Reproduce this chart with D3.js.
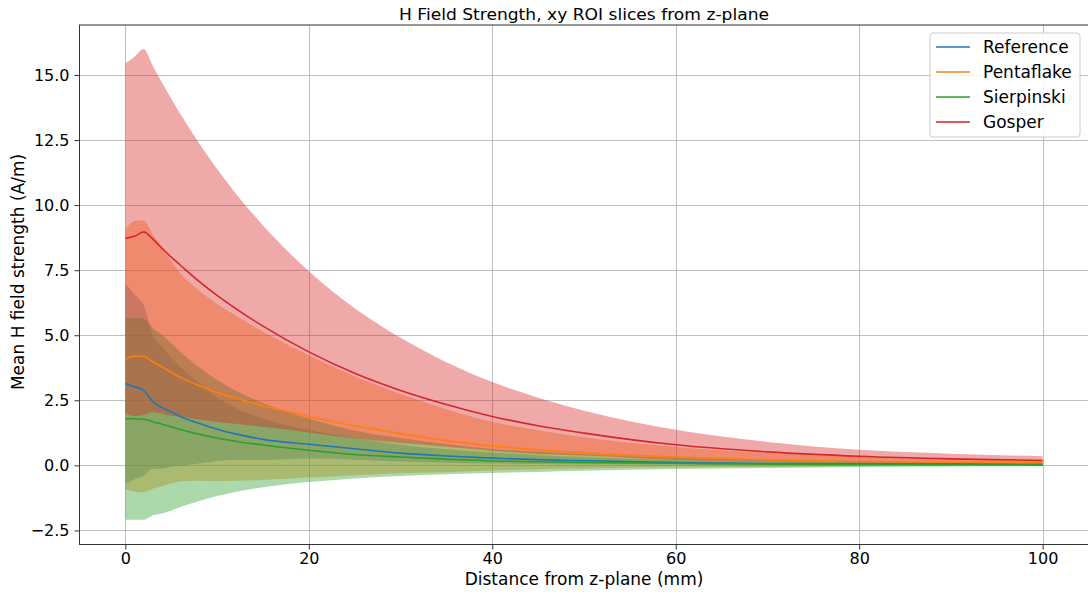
<!DOCTYPE html>
<html>
<head>
<meta charset="utf-8">
<script src="https://cdnjs.cloudflare.com/ajax/libs/d3/7.8.5/d3.min.js"></script>
<style>
  html, body { margin: 0; padding: 0; background: #fff; }
  svg { display: block; font-family: "DejaVu Sans", sans-serif; }
</style>
</head>
<body>
<svg id="chart" width="1088" height="594"></svg>
<script>
// ---- data ----
const distances = [0,1,2,3,4,5,6,8,10,12,15,20,25,30,35,40,45,50,60,70,80,90,100];

const referenceMean = [3.14,3.02,2.88,2.44,2.22,2.05,1.88,1.62,1.39,1.21,1.00,0.81,0.64,0.47,0.36,0.28,0.22,0.18,0.11,0.07,0.06,0.05,0.04];
const referenceStd  = [3.86,3.55,3.27,2.57,2.35,2.10,1.90,1.55,1.22,1.00,0.80,0.55,0.42,0.32,0.26,0.21,0.17,0.14,0.09,0.06,0.05,0.04,0.03];

const pentaflakeMean = [4.08,4.19,4.19,3.98,3.78,3.58,3.38,3.07,2.80,2.59,2.29,1.88,1.52,1.22,0.95,0.74,0.60,0.48,0.32,0.21,0.15,0.12,0.10];
const pentaflakeStd  = [5.00,5.20,5.23,4.88,4.58,4.28,4.00,3.66,3.40,3.18,2.85,2.35,1.90,1.52,1.21,0.94,0.75,0.60,0.39,0.27,0.18,0.14,0.12];

const sierpinskiMean = [1.79,1.79,1.77,1.68,1.58,1.48,1.38,1.20,1.05,0.93,0.78,0.58,0.42,0.32,0.24,0.17,0.14,0.11,0.08,0.05,0.04,0.03,0.02];
const sierpinskiStd  = [3.88,3.88,3.86,3.60,3.43,3.21,2.98,2.58,2.23,1.95,1.62,1.22,0.92,0.73,0.58,0.46,0.39,0.32,0.22,0.15,0.10,0.07,0.05];

const gosperMean = [8.72,8.80,8.97,8.69,8.34,8.00,7.69,7.08,6.53,6.03,5.35,4.36,3.54,2.88,2.34,1.88,1.52,1.24,0.79,0.52,0.35,0.25,0.19];
const gosperStd  = [6.73,6.90,7.03,6.65,6.36,6.09,5.81,5.32,4.86,4.43,3.87,3.10,2.50,2.02,1.62,1.32,1.08,0.86,0.58,0.38,0.25,0.20,0.16];

const seriesNames = ["Reference","Pentaflake","Sierpinski","Gosper"];
const seriesColors = ["#1f77b4","#ff7f0e","#2ca02c","#d62728"];
const xTicks = [0,20,40,60,80,100];
const yTicks = [-2.5,0,2.5,5,7.5,10,12.5,15];

const titleText = "H Field Strength, xy ROI slices from z-plane";
const xLabel = "Distance from z-plane (mm)";
const yLabel = "Mean H field strength (A/m)";

// ---- build ----
const means = [referenceMean, pentaflakeMean, sierpinskiMean, gosperMean];
const stds = [referenceStd, pentaflakeStd, sierpinskiStd, gosperStd];
const series = seriesNames.map((name, i) => ({
  name, color: seriesColors[i],
  pts: distances.map((d, j) => ({x: d, m: means[i][j], s: stds[i][j]}))
}));

const svg = d3.select("#chart");
const L = 79.5, R = 1088.5, T = 25, B = 544.5;
const x = d3.scaleLinear().domain([-5, 105]).range([L, R]);
const y = d3.scaleLinear().domain([-3.04, 16.92]).range([B, T]);

svg.append("defs").append("clipPath").attr("id","clip")
  .append("rect").attr("x", L).attr("y", T).attr("width", R - L).attr("height", B - T);

// grid
const grid = svg.append("g");
grid.selectAll(".gx").data(xTicks).join("line")
  .attr("x1", d => Math.round(x(d)) + 0.5).attr("x2", d => Math.round(x(d)) + 0.5)
  .attr("y1", T).attr("y2", B).attr("stroke", "#b0b0b0").attr("stroke-width", 1).attr("opacity", 0.8);
grid.selectAll(".gy").data(yTicks).join("line")
  .attr("y1", d => Math.round(y(d)) + 0.5).attr("y2", d => Math.round(y(d)) + 0.5)
  .attr("x1", L).attr("x2", R).attr("stroke", "#b0b0b0").attr("stroke-width", 1).attr("opacity", 0.8);

const plot = svg.append("g").attr("clip-path", "url(#clip)");

// fills
const area = d3.area().curve(d3.curveMonotoneX)
  .x(d => x(d.x)).y0(d => y(d.m - d.s)).y1(d => y(d.m + d.s));
plot.selectAll(".band").data(series).join("path")
  .attr("d", d => area(d.pts)).attr("fill", d => d.color).attr("fill-opacity", 0.4);

// lines
const line = d3.line().curve(d3.curveMonotoneX).x(d => x(d.x)).y(d => y(d.m));
plot.selectAll(".ln").data(series).join("path")
  .attr("d", d => line(d.pts)).attr("fill", "none").attr("stroke", d => d.color)
  .attr("stroke-width", 1.6).attr("stroke-linejoin", "round");

// axes
const fmtY = v => (v < 0 ? "\u2212" : "") + Math.abs(v).toFixed(1);
const xAxis = svg.append("g").attr("transform", `translate(0,${B})`)
  .call(d3.axisBottom(x).tickValues(xTicks).tickSize(5).tickPadding(3).tickFormat(d3.format("d")));
const yAxis = svg.append("g").attr("transform", `translate(${L},0)`)
  .call(d3.axisLeft(y).tickValues(yTicks).tickSize(5).tickPadding(5).tickFormat(fmtY));
[xAxis, yAxis].forEach(a => {
  a.select(".domain").remove();
  a.selectAll("text").attr("font-size", 16).attr("fill", "#000").attr("font-family", "DejaVu Sans");
  a.selectAll("line").attr("stroke", "#333");
});

// frame
svg.append("rect").attr("x", L).attr("y", T).attr("width", R - L).attr("height", B - T)
  .attr("fill", "none").attr("stroke", "#333").attr("stroke-width", 1);

// labels
svg.append("text").attr("x", 584).attr("y", 20).attr("text-anchor", "middle")
  .attr("font-size", 16).attr("fill", "#000").attr("textLength", 370)
  .attr("lengthAdjust", "spacingAndGlyphs").text(titleText);
svg.append("text").attr("x", 584).attr("y", 585).attr("text-anchor", "middle")
  .attr("font-size", 17).attr("fill", "#000").text(xLabel);
svg.append("text").attr("transform", "translate(24,272) rotate(-90)").attr("text-anchor", "middle")
  .attr("font-size", 17).attr("fill", "#000").text(yLabel);

// legend
const lg = svg.append("g").attr("transform", "translate(930,33)");
lg.append("rect").attr("x", 0).attr("y", 0).attr("width", 150).attr("height", 104).attr("rx", 3)
  .attr("fill", "#fff").attr("fill-opacity", 0.85).attr("stroke", "#cccccc");
series.forEach((s, i) => {
  const yy = 14 + i * 25;
  lg.append("line").attr("x1", 6).attr("x2", 40).attr("y1", yy).attr("y2", yy)
    .attr("stroke", s.color).attr("stroke-width", 1.6);
  lg.append("text").attr("x", 53).attr("y", yy).attr("dy", "0.35em")
    .attr("font-size", 17).attr("fill", "#000").text(s.name);
});
</script>
</body>
</html>
